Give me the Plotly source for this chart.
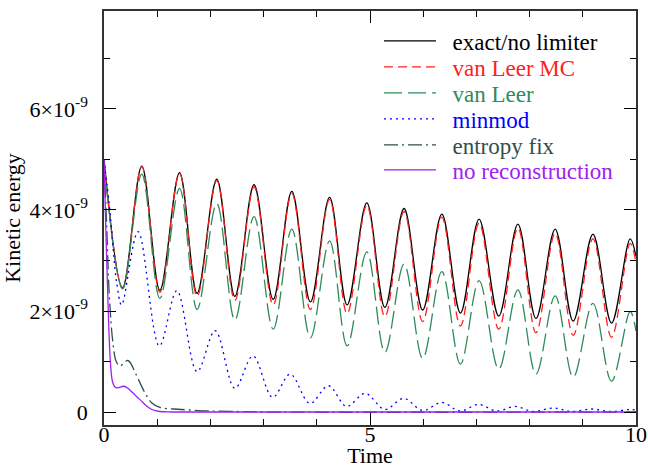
import plotly.graph_objects as go

# ---- data (kinetic energy in units of 1e-9) ----
t_osc = [0, 0.35, 0.71, 1.05, 1.42, 1.75, 2.12, 2.46, 2.82, 3.18, 3.53, 3.88, 4.24, 4.57,
         4.94, 5.28, 5.64, 5.99, 6.35, 6.70, 7.05, 7.42, 7.78, 8.12, 8.48, 8.82, 9.19,
         9.54, 9.89, 10.0]
exact = [5.0, 2.46, 4.87, 2.41, 4.74, 2.35, 4.61, 2.29, 4.50, 2.23, 4.37, 2.18, 4.25, 2.12,
         4.14, 2.07, 4.03, 2.02, 3.92, 1.96, 3.82, 1.90, 3.72, 1.85, 3.62, 1.80, 3.52,
         1.76, 3.43, 3.08]
vanleer_mc = [5.0, 2.45, 4.86, 2.37, 4.72, 2.29, 4.58, 2.21, 4.46, 2.12, 4.33, 2.03, 4.21, 1.95,
              4.09, 1.89, 3.97, 1.79, 3.86, 1.70, 3.74, 1.64, 3.64, 1.57, 3.54, 1.52, 3.43,
              1.48, 3.34, 2.95]
vanleer = [5.0, 2.44, 4.71, 2.25, 4.43, 2.03, 4.13, 1.82, 3.87, 1.64, 3.62, 1.47, 3.39, 1.31,
           3.17, 1.18, 2.93, 1.06, 2.78, 0.95, 2.60, 0.85, 2.42, 0.75, 2.30, 0.69, 2.15,
           0.61, 1.99, 1.60]

t_minmod = [0, 0.11, 0.175, 0.24, 0.33, 0.64, 1.04, 1.37, 1.75, 2.09, 2.46, 2.80, 3.17, 3.50,
            3.87, 4.22, 4.56, 4.91, 5.28, 5.63, 5.99, 6.35, 6.69, 7.04, 7.38, 7.73, 8.07,
            8.45, 8.79, 9.17, 9.51, 9.89, 10.0]
minmod = [5.0, 4.0, 3.2, 2.55, 2.12, 3.57, 1.31, 2.40, 0.80, 1.61, 0.47, 1.11, 0.29, 0.75,
          0.17, 0.52, 0.11, 0.37, 0.05, 0.27, 0.03, 0.19, 0.02, 0.15, 0.02, 0.11, 0.01,
          0.08, 0.01, 0.06, 0.01, 0.05, 0.04]

t_entropy = [0, 0.05, 0.1, 0.17, 0.23, 0.30, 0.45, 0.6, 0.75, 0.9, 1.05, 1.3, 1.6, 2.0, 2.5, 3.0, 10.0]
entropy = [5.0, 3.7, 2.3, 1.35, 1.0, 0.91, 1.02, 0.75, 0.42, 0.18, 0.09, 0.06, 0.04, 0.02, 0.01, 0.0, 0.0]

t_norec = [0, 0.04, 0.08, 0.12, 0.16, 0.21, 0.26, 0.37, 0.45, 0.55, 0.68, 0.8, 0.9, 1.05, 1.3, 10.0]
norec = [5.0, 3.4, 2.0, 1.0, 0.6, 0.49, 0.48, 0.51, 0.47, 0.37, 0.24, 0.12, 0.05, 0.01, 0.0, 0.0]

y_tickvals = [0, 2, 4, 6]
y_ticktext = ["0", "2×10<sup>-9</sup>", "4×10<sup>-9</sup>", "6×10<sup>-9</sup>"]
x_tickvals = [0, 5, 10]
x_ticktext = ["0", "5", "10"]

FONT = "Liberation Serif, Times New Roman, Times, DejaVu Serif, Noto Serif, serif"

series = [
    ("exact/no limiter", t_osc, exact, "#000000", "solid"),
    ("van Leer MC", t_osc, vanleer_mc, "#ff2020", "9px,5px"),
    ("van Leer", t_osc, vanleer, "#2e8b57", "18px,6px"),
    ("minmod", t_minmod, minmod, "#0000ff", "2px,4px"),
    ("entropy fix", t_entropy, entropy, "#2f4f4f", "14px,4px,2px,4px"),
    ("no reconstruction", t_norec, norec, "#a020f0", "solid"),
]

# plot area in pixels (for placing the legend rows)
PLOT_TOP, PLOT_BOTTOM, PLOT_LEFT, PLOT_RIGHT = 11, 425, 104, 636
legend_rows_px = [41, 67, 93, 119, 145, 170]

fig = go.Figure()
layout_legends = {}
for i, (name, x, y, color, dash) in enumerate(series):
    key = "legend" if i == 0 else f"legend{i + 1}"
    fig.add_trace(go.Scatter(
        x=x, y=y, mode="lines",
        name=f'<span style="color:{color}">\u2002{name}</span>',
        legend=key, showlegend=True,
        line=dict(color=color, width=1.3, dash=dash, shape="spline", smoothing=1.0),
    ))
    layout_legends[key] = dict(
        x=(379 - PLOT_LEFT) / (PLOT_RIGHT - PLOT_LEFT),
        y=(PLOT_BOTTOM - legend_rows_px[i]) / (PLOT_BOTTOM - PLOT_TOP),
        xanchor="left", yanchor="middle",
        bgcolor="rgba(0,0,0,0)", borderwidth=0,
        font=dict(family=FONT, size=23),
        itemwidth=52, visible=True,
    )

axis_common = dict(
    showline=True, linecolor="#333333", linewidth=1.5, mirror="allticks",
    ticks="inside", ticklen=12, tickwidth=1.2, tickcolor="#000000",
    showgrid=False, zeroline=False, automargin=False,
    tickfont=dict(family=FONT, size=22, color="black"),
)

fig.update_xaxes(
    range=[0, 10], tickmode="array", tickvals=x_tickvals, ticktext=x_ticktext,
    minor=dict(dtick=1, ticks="inside", ticklen=6, tickcolor="#000000", showgrid=False),
    title=dict(text="Time", font=dict(family=FONT, size=22, color="black"), standoff=9),
    ticklabelstandoff=-11,
    **axis_common,
)
fig.update_yaxes(
    range=[-0.257, 7.94], tickmode="array", tickvals=y_tickvals, ticktext=y_ticktext,
    minor=dict(dtick=1, ticks="inside", ticklen=6, tickcolor="#000000", showgrid=False),
    title=dict(text="Kinetic energy", font=dict(family=FONT, size=22, color="black"), standoff=3),
    ticklabelstandoff=10,
    **axis_common,
)

fig.update_layout(
    width=648, height=468,
    margin=dict(l=104, r=12, t=11, b=43),
    paper_bgcolor="white", plot_bgcolor="white",
    font=dict(family=FONT, size=22, color="black"),
    showlegend=True,
    **layout_legends,
)

fig.write_html(
    "out.html",
    config={"displayModeBar": False},
    post_script="document.body.style.margin='0px';document.body.style.overflow='hidden';",
)
